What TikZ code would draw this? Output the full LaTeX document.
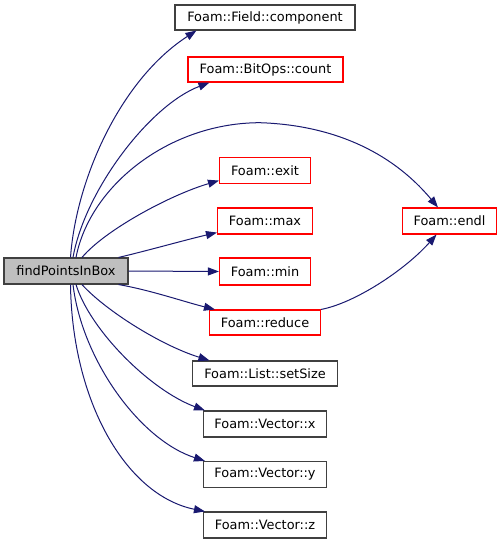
\documentclass[tikz,border=0pt]{standalone}
\usepackage{fontspec}
\setmainfont{DejaVu Sans}
\usetikzlibrary{arrows.meta}
\definecolor{edgeblue}{HTML}{191970}
\definecolor{nodegrey}{HTML}{BFBFBF}
\definecolor{darkborder}{HTML}{404040}
\definecolor{redborder}{HTML}{FF0000}
\tikzset{
  fn/.style={draw=darkborder, line width=1.1pt, fill=white, inner sep=0pt,
    minimum height=25pt, font=\fontsize{12.9}{15}\selectfont, text=black},
  fnred/.style={fn, draw=redborder},
  fnmain/.style={fn, fill=nodegrey},
  call/.style={draw=edgeblue, line width=1pt,
    -{Triangle[length=11pt,width=8pt]}, edgeblue}
}
\begin{document}
\begin{tikzpicture}[x=1pt,y=-1pt]
\useasboundingbox (0,0) rectangle (503,544);
\node[fnmain, minimum width=124pt, minimum height=26pt] (main) at (66,271) {findPointsInBox};
\node[fn, minimum width=180pt] (comp) at (265,17.5) {Foam::Field::component};
\node[fnred, minimum width=155pt] (count) at (265.5,69.5) {Foam::BitOps::count};
\node[fnred, minimum width=91pt, minimum height=26pt] (exit) at (265,170.5) {Foam::exit};
\node[fnred, minimum width=95pt, minimum height=26pt] (max) at (265,221) {Foam::max};
\node[fnred, minimum width=91pt, minimum height=27pt] (min) at (265,271.5) {Foam::min};
\node[fnred, minimum width=111pt] (reduce) at (265,322.5) {Foam::reduce};
\node[fnred, minimum width=94pt, minimum height=26pt] (endl) at (449.5,221) {Foam::endl};
\node[fn, minimum width=145pt] (setsize) at (265,373.5) {Foam::List::setSize};
\node[fn, minimum width=123pt, minimum height=26pt] (vx) at (265,424) {Foam::Vector::x};
\node[fn, minimum width=123pt, minimum height=26pt] (vy) at (265,474.5) {Foam::Vector::y};
\node[fn, minimum width=123pt, minimum height=26pt] (vz) at (265,525) {Foam::Vector::z};

\draw[call] ([xshift=4.5pt]main.north) .. controls (76,180) and (120,80) .. ([xshift=22pt]comp.south west);
\draw[call] ([xshift=7pt]main.north) .. controls (85,190) and (150,105) .. ([xshift=22pt]count.south west);
\draw[call] ([xshift=10pt]main.north) .. controls (90,185) and (170,122.7) .. (260,122.7)
   .. controls (330,125) and (390,150) .. ([xshift=-11.5pt]endl.north);
\draw[call] ([xshift=16pt]main.north) .. controls (105,230) and (170,195) .. ([yshift=3.5pt]exit.south west);
\draw[call] ([xshift=-10pt]main.north east) .. controls (150,250) and (185,240) .. ([yshift=2pt]max.south west);
\draw[call] (main.east) -- (min.west);
\draw[call] ([xshift=-10pt]main.south east) .. controls (150,290) and (185,302) .. ([xshift=6pt]reduce.north west);
\draw[call] ([xshift=16pt]main.south) .. controls (105,310) and (160,345) .. ([xshift=17.5pt]setsize.north west);
\draw[call] ([xshift=10pt]main.south) .. controls (90,330) and (150,390) .. ([xshift=2pt]vx.north west);
\draw[call] ([xshift=7pt]main.south) .. controls (82,360) and (140,440) .. ([xshift=2pt]vy.north west);
\draw[call] ([xshift=4.5pt]main.south) .. controls (72,400) and (125,495) .. ([xshift=2pt]vz.north west);
\draw[call] (reduce.north east) .. controls (355,303) and (405,270) .. ([xshift=-13pt]endl.south);
\end{tikzpicture}
\end{document}
